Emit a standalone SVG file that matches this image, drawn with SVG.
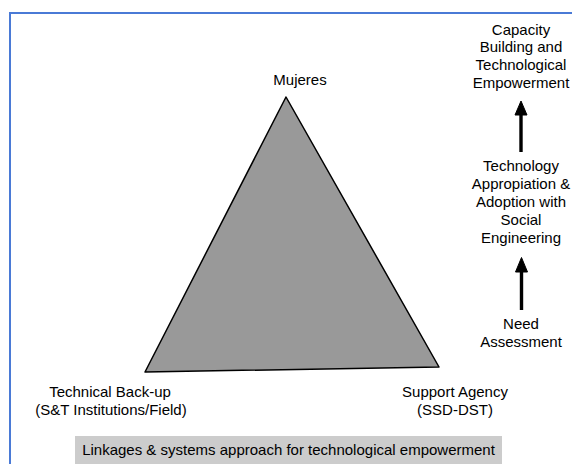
<svg xmlns="http://www.w3.org/2000/svg" width="572" height="464" viewBox="0 0 572 464">
<style>
text{font-family:"Liberation Sans",Arial,Helvetica,sans-serif;font-size:15px;fill:#000;text-anchor:middle}
.shaft{stroke:#000;stroke-width:3.4;fill:none}
.head{fill:#000;stroke:#000;stroke-width:1;stroke-linejoin:round}
</style>
<rect x="0" y="0" width="572" height="464" fill="#fff"/>
<rect x="10" y="13" width="600" height="500" fill="none" stroke="#4a7ad6" stroke-width="2"/>
<g id="triangle">
<polygon points="286,97 145,372 439,367" fill="#999999" stroke="#000" stroke-width="1.5" stroke-linejoin="round"/>
</g>
<g id="mujeres"><text x="300" y="85">Mujeres</text></g>
<g id="technical-backup"><text x="110" y="397">Technical Back-up</text><text x="111" y="415">(S&amp;T Institutions/Field)</text></g>
<g id="support-agency"><text x="455" y="397">Support Agency</text><text x="455" y="415">(SSD-DST)</text></g>
<g id="capacity"><text x="521" y="34.5">Capacity</text><text x="521" y="52.3">Building and</text><text x="521" y="70">Technological</text><text x="521" y="87.7">Empowerment</text></g>
<g id="appropriation"><text x="521" y="171">Technology</text><text x="521" y="189">Appropiation &amp;</text><text x="521" y="207">Adoption with</text><text x="521" y="225">Social</text><text x="521" y="243">Engineering</text></g>
<g id="need"><text x="521" y="329">Need</text><text x="521" y="347">Assessment</text></g>
<g id="connectors">
<line class="shaft" x1="521" y1="152" x2="521" y2="112"/>
<polygon class="head" points="521,101 527,115 515,115"/>
<line class="shaft" x1="521.5" y1="310" x2="521.5" y2="270"/>
<polygon class="head" points="521.5,257.5 527.5,272 515.5,272"/>
</g>
<g id="caption">
<rect x="75" y="436" width="427" height="30" fill="#cccccc"/>
<text x="288.5" y="455">Linkages &amp; systems approach for technological empowerment</text>
</g>
</svg>
